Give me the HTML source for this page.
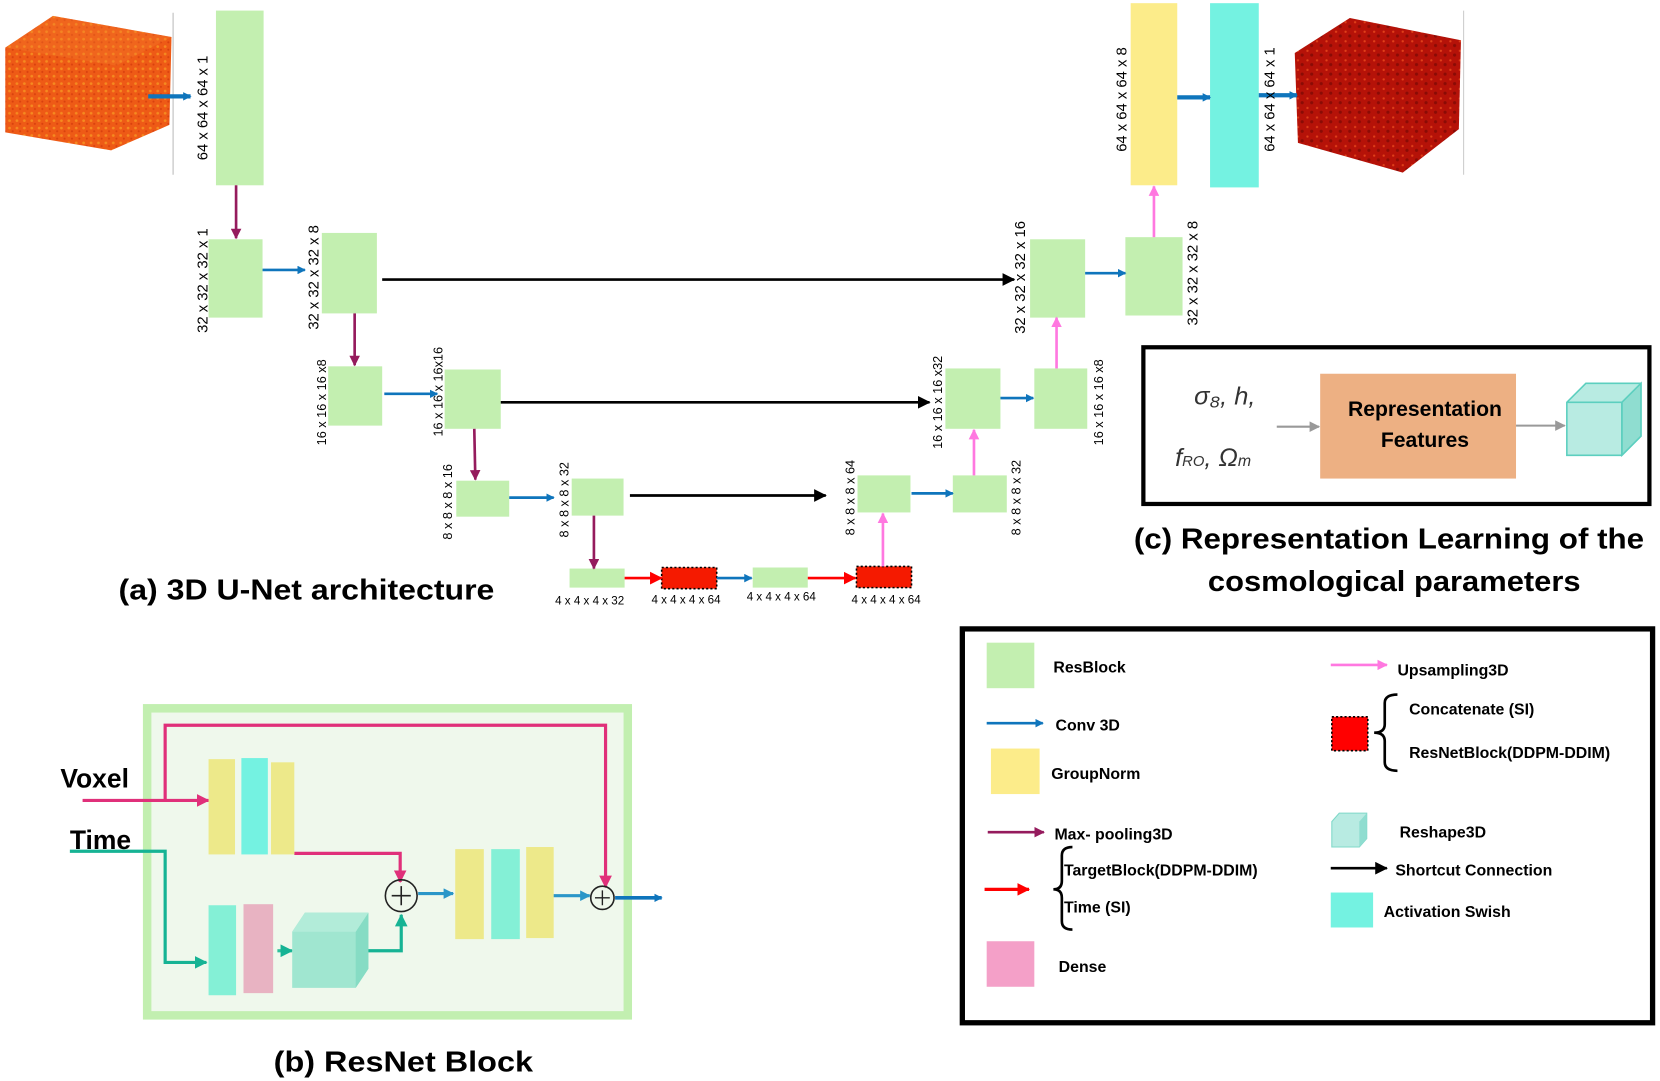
<!DOCTYPE html>
<html><head><meta charset="utf-8"><style>
html,body{margin:0;padding:0;background:#fff;}
svg{display:block;}
text{font-family:"Liberation Sans",sans-serif;}
.b{font-weight:bold;}
</style></head><body>
<svg width="1660" height="1081" viewBox="0 0 1568 1021" preserveAspectRatio="none" xmlns="http://www.w3.org/2000/svg">
<defs>
<marker id="mb" markerWidth="8" markerHeight="8" refX="7" refY="4" orient="auto" markerUnits="userSpaceOnUse"><path d="M0,0L8,4L0,8z" fill="#0f75bc"/></marker>
<marker id="mp" markerWidth="10" markerHeight="10" refX="9" refY="5" orient="auto" markerUnits="userSpaceOnUse"><path d="M0,0L10,5L0,10z" fill="#951b5d"/></marker>
<marker id="mk" markerWidth="12" markerHeight="12" refX="11" refY="6" orient="auto" markerUnits="userSpaceOnUse"><path d="M0,0L12,6L0,12z" fill="#000"/></marker>
<marker id="mu" markerWidth="10" markerHeight="10" refX="9" refY="5" orient="auto" markerUnits="userSpaceOnUse"><path d="M0,0L10,5L0,10z" fill="#ff78e0"/></marker>
<marker id="mr" markerWidth="12" markerHeight="12" refX="11" refY="6" orient="auto" markerUnits="userSpaceOnUse"><path d="M0,0L12,6L0,12z" fill="#ff0000"/></marker>
<marker id="mg" markerWidth="10" markerHeight="10" refX="9" refY="5" orient="auto" markerUnits="userSpaceOnUse"><path d="M0,0L10,5L0,10z" fill="#999"/></marker>
<marker id="mm" markerWidth="12" markerHeight="12" refX="11" refY="6" orient="auto" markerUnits="userSpaceOnUse"><path d="M0,0L12,6L0,12z" fill="#e0307a"/></marker>
<marker id="mt" markerWidth="12" markerHeight="12" refX="11" refY="6" orient="auto" markerUnits="userSpaceOnUse"><path d="M0,0L12,6L0,12z" fill="#16b394"/></marker>
<marker id="mc" markerWidth="10" markerHeight="10" refX="9" refY="5" orient="auto" markerUnits="userSpaceOnUse"><path d="M0,0L10,5L0,10z" fill="#2a96c8"/></marker>
<pattern id="po" width="7" height="7" patternUnits="userSpaceOnUse"><rect width="7" height="7" fill="#ee5a16"/><circle cx="2" cy="2" r="1.3" fill="#f58a20"/><circle cx="5" cy="5" r="1" fill="#d9400e"/></pattern>
<pattern id="pr" width="9" height="9" patternUnits="userSpaceOnUse"><rect width="9" height="9" fill="#b51208"/><circle cx="2" cy="3" r="1.1" fill="#e0401a"/><circle cx="6" cy="7" r="1.5" fill="#8a0b05"/></pattern>
</defs>

<!-- input cube -->
<polygon points="5,45 50,15 162,35 160,118 105,142 5,125" fill="url(#po)"/>
<polygon points="5,45 50,15 162,35 110,62" fill="#f47a2a" opacity="0.35"/>
<line x1="163.5" y1="12" x2="163.5" y2="165" stroke="#bbb" stroke-width="1"/>
<line x1="140" y1="91" x2="180" y2="91" stroke="#0f75bc" stroke-width="4" marker-end="url(#mb)"/>

<g fill="#c3efb0">
<rect x="204" y="10" width="45" height="165"/>
<rect x="197" y="226" width="51" height="74"/>
<rect x="304" y="220" width="52" height="76"/>
<rect x="310" y="346" width="51" height="56"/>
<rect x="420" y="349" width="53" height="56"/>
<rect x="431" y="454" width="50" height="34"/>
<rect x="540" y="452" width="49" height="35"/>
<rect x="538" y="537" width="52" height="18"/>
<rect x="711" y="536" width="52" height="19"/>
<rect x="810" y="449" width="50" height="35"/>
<rect x="900" y="449" width="51" height="35"/>
<rect x="893" y="348" width="52" height="57"/>
<rect x="977" y="348" width="50" height="57"/>
<rect x="973" y="226" width="52" height="74"/>
<rect x="1063" y="224" width="54" height="74"/>
</g>
<rect x="1068" y="3" width="44" height="172" fill="#fcec8a"/>
<rect x="1143" y="3" width="46" height="174" fill="#74f2e1"/>
<rect x="625" y="536" width="52" height="20" fill="#f51a00" stroke="#000" stroke-width="1.5" stroke-dasharray="2,2"/>
<rect x="809" y="535" width="52" height="20" fill="#f51a00" stroke="#000" stroke-width="1.5" stroke-dasharray="2,2"/>

<!-- output cube -->
<polygon points="1223,50 1275,17 1380,38 1378,122 1325,163 1226,135" fill="url(#pr)"/>
<line x1="1382.5" y1="10" x2="1382.5" y2="165" stroke="#ccc" stroke-width="1"/>

<!-- arrows -->
<g stroke-width="2.5">
<line x1="223" y1="175" x2="223" y2="225" stroke="#951b5d" marker-end="url(#mp)"/>
<line x1="335" y1="296" x2="335" y2="345" stroke="#951b5d" marker-end="url(#mp)"/>
<line x1="448" y1="405" x2="449" y2="453" stroke="#951b5d" marker-end="url(#mp)"/>
<line x1="561" y1="487" x2="561" y2="537" stroke="#951b5d" marker-end="url(#mp)"/>
<line x1="248" y1="255" x2="288" y2="255" stroke="#0f75bc" marker-end="url(#mb)"/>
<line x1="363" y1="372" x2="413" y2="372" stroke="#0f75bc" marker-end="url(#mb)"/>
<line x1="481" y1="470" x2="523" y2="470" stroke="#0f75bc" marker-end="url(#mb)"/>
<line x1="677" y1="546" x2="710" y2="546" stroke="#0f75bc" marker-end="url(#mb)"/>
<line x1="861" y1="466" x2="900" y2="466" stroke="#0f75bc" marker-end="url(#mb)"/>
<line x1="945" y1="376" x2="976" y2="376" stroke="#0f75bc" marker-end="url(#mb)"/>
<line x1="1025" y1="258" x2="1063" y2="258" stroke="#0f75bc" marker-end="url(#mb)"/>
<line x1="1112" y1="92" x2="1143" y2="92" stroke="#0f75bc" stroke-width="4" marker-end="url(#mb)"/>
<line x1="1189" y1="90" x2="1225" y2="90" stroke="#0f75bc" stroke-width="4" marker-end="url(#mb)"/>
<line x1="361" y1="264" x2="958" y2="264" stroke="#000" marker-end="url(#mk)"/>
<line x1="473" y1="380" x2="878" y2="380" stroke="#000" marker-end="url(#mk)"/>
<line x1="595" y1="468" x2="780" y2="468" stroke="#000" marker-end="url(#mk)"/>
<line x1="590" y1="546" x2="625" y2="546" stroke="#ff0000" marker-end="url(#mr)"/>
<line x1="763" y1="546" x2="808" y2="546" stroke="#ff0000" marker-end="url(#mr)"/>
<line x1="834" y1="535" x2="834" y2="485" stroke="#ff78e0" marker-end="url(#mu)"/>
<line x1="920" y1="449" x2="920" y2="406" stroke="#ff78e0" marker-end="url(#mu)"/>
<line x1="998" y1="348" x2="998" y2="300" stroke="#ff78e0" marker-end="url(#mu)"/>
<line x1="1090" y1="224" x2="1090" y2="176" stroke="#ff78e0" marker-end="url(#mu)"/>
</g>

<!-- rotated labels -->
<g font-size="14" text-anchor="middle">
<text transform="translate(196,102) rotate(-90)">64 x 64 x 64 x 1</text>
<text transform="translate(196,265) rotate(-90)">32 x 32 x 32 x 1</text>
<text transform="translate(301,262) rotate(-90)">32 x 32 x 32 x 8</text>
<text transform="translate(968,262) rotate(-90)">32 x 32 x 32 x 16</text>
<text transform="translate(1131,258) rotate(-90)">32 x 32 x 32 x 8</text>
<text transform="translate(1064,94) rotate(-90)">64 x 64 x 64 x 8</text>
<text transform="translate(1204,94) rotate(-90)">64 x 64 x 64 x 1</text>
</g>
<g font-size="12" text-anchor="middle">
<text transform="translate(308,380) rotate(-90)">16 x 16 x 16 x8</text>
<text transform="translate(418,370) rotate(-90)">16 x 16 x 16x16</text>
<text transform="translate(427,474) rotate(-90)">8 x 8 x 8 x 16</text>
<text transform="translate(537,472) rotate(-90)">8 x 8 x 8 x 32</text>
<text transform="translate(807,470) rotate(-90)">8 x 8 x 8 x 64</text>
<text transform="translate(964,470) rotate(-90)">8 x 8 x 8 x 32</text>
<text transform="translate(890,380) rotate(-90)">16 x 16 x 16 x32</text>
<text transform="translate(1042,380) rotate(-90)">16 x 16 x 16 x8</text>
</g>
<g font-size="11" text-anchor="middle">
<text x="557" y="571">4 x 4 x 4 x 32</text>
<text x="648" y="570">4 x 4 x 4 x 64</text>
<text x="738" y="567">4 x 4 x 4 x 64</text>
<text x="837" y="570">4 x 4 x 4 x 64</text>
</g>
<text x="112" y="566" class="b" font-size="27" textLength="355" lengthAdjust="spacingAndGlyphs">(a) 3D U-Net architecture</text>

<!-- (c) -->
<rect x="1080" y="328" width="478" height="148" fill="none" stroke="#000" stroke-width="4"/>
<text x="1128" y="382" font-family="Liberation Serif" font-style="italic" font-size="24" fill="#333">σ₈, h,</text>
<text x="1110" y="440" font-family="Liberation Serif" font-style="italic" font-size="24" fill="#333">f<tspan font-size="14">RO</tspan>, Ω<tspan font-size="15">m</tspan></text>
<line x1="1206" y1="403" x2="1246" y2="403" stroke="#999" stroke-width="2" marker-end="url(#mg)"/>
<rect x="1247" y="353" width="185" height="99" fill="#edb083"/>
<text x="1346" y="393" class="b" font-size="20" text-anchor="middle">Representation</text>
<text x="1346" y="422" class="b" font-size="20" text-anchor="middle">Features</text>
<line x1="1432" y1="402" x2="1478" y2="402" stroke="#999" stroke-width="2" marker-end="url(#mg)"/>
<polygon points="1480,380 1498,362 1550,362 1550,412 1532,430 1480,430" fill="#b8ebe2" stroke="#5ccfbf" stroke-width="1.5"/>
<polygon points="1532,380 1550,362 1550,412 1532,430" fill="#8fddd0" stroke="#5ccfbf" stroke-width="1.5"/>
<polyline points="1480,380 1532,380 1532,430" fill="none" stroke="#5ccfbf" stroke-width="1.5"/>
<text x="1312" y="518" class="b" font-size="27" text-anchor="middle" textLength="482" lengthAdjust="spacingAndGlyphs">(c) Representation Learning of the</text>
<text x="1317" y="558" class="b" font-size="27" text-anchor="middle" textLength="352" lengthAdjust="spacingAndGlyphs">cosmological parameters</text>

<!-- (b) ResNet block -->
<rect x="139" y="669" width="454" height="290" fill="#eff8ec" stroke="#c2efb0" stroke-width="8"/>
<text x="57" y="744" class="b" font-size="25">Voxel</text>
<text x="66" y="802" class="b" font-size="25">Time</text>
<polyline points="156,756 156,685 572,685 572,838" fill="none" stroke="#e0307a" stroke-width="3" marker-end="url(#mm)"/>
<line x1="78" y1="756" x2="197" y2="756" stroke="#e0307a" stroke-width="3" marker-end="url(#mm)"/>
<polyline points="278,806 378,806 378,833" fill="none" stroke="#e0307a" stroke-width="3" marker-end="url(#mm)"/>
<polyline points="66,804 156,804 156,909 195,909" fill="none" stroke="#16b394" stroke-width="3" marker-end="url(#mt)"/>
<rect x="197" y="717" width="25" height="90" fill="#ede98a"/>
<rect x="228" y="716" width="25" height="91" fill="#74f2e1"/>
<rect x="256" y="720" width="22" height="87" fill="#ede98a"/>
<rect x="430" y="802" width="27" height="85" fill="#ede98a"/>
<rect x="464" y="802" width="27" height="85" fill="#84f0d6"/>
<rect x="497" y="800" width="26" height="86" fill="#ede98a"/>
<rect x="197" y="855" width="26" height="85" fill="#84f0d6"/>
<rect x="230" y="854" width="28" height="84" fill="#e8b3c2"/>
<line x1="262" y1="898" x2="276" y2="898" stroke="#2fbf9c" stroke-width="3" marker-end="url(#mt)"/>
<polygon points="276,880 288,862 348,862 348,915 336,933 276,933" fill="#a0e6d0"/>
<polygon points="336,880 348,862 348,915 336,933" fill="#86dcc4"/>
<polygon points="276,880 288,862 348,862 336,880" fill="#b2ecd9"/>
<polyline points="348,898 379,898 379,864" fill="none" stroke="#16b394" stroke-width="3" marker-end="url(#mt)"/>
<circle cx="379" cy="846" r="15" fill="none" stroke="#222" stroke-width="1.5"/>
<path d="M370,846h18M379,837v18" stroke="#222" stroke-width="1.5"/>
<line x1="395" y1="844" x2="428" y2="844" stroke="#2a96c8" stroke-width="3" marker-end="url(#mc)"/>
<line x1="523" y1="846" x2="557" y2="846" stroke="#2a96c8" stroke-width="3" marker-end="url(#mc)"/>
<circle cx="569" cy="848" r="11" fill="none" stroke="#222" stroke-width="1.5"/>
<path d="M562,848h14M569,841v14" stroke="#222" stroke-width="1.3"/>
<line x1="581" y1="848" x2="625" y2="848" stroke="#0f75bc" stroke-width="3.5" marker-end="url(#mb)"/>
<text x="381" y="1012" class="b" font-size="27" text-anchor="middle" textLength="245" lengthAdjust="spacingAndGlyphs">(b) ResNet Block</text>

<!-- legend -->
<rect x="909" y="594" width="652" height="372" fill="none" stroke="#000" stroke-width="5"/>
<g font-size="15" class="b">
<rect x="932" y="607" width="45" height="43" fill="#c3efb0"/>
<text x="995" y="635">ResBlock</text>
<line x1="932" y1="683" x2="985" y2="683" stroke="#0f75bc" stroke-width="2.5" marker-end="url(#mb)"/>
<text x="997" y="690">Conv 3D</text>
<rect x="936" y="707" width="46" height="43" fill="#fcec8a"/>
<text x="993" y="736">GroupNorm</text>
<line x1="933" y1="786" x2="986" y2="786" stroke="#951b5d" stroke-width="2.5" marker-end="url(#mp)"/>
<text x="996" y="793">Max- pooling3D</text>
<path d="M1013,800 Q1003,800 1003,808 L1003,832 Q1003,840 995,840 Q1003,840 1003,848 L1003,870 Q1003,878 1013,878" fill="none" stroke="#000" stroke-width="2.5"/>
<line x1="930" y1="840" x2="972" y2="840" stroke="#ff0000" stroke-width="3" marker-end="url(#mr)"/>
<text x="1005" y="827">TargetBlock(DDPM-DDIM)</text>
<text x="1005" y="862">Time (SI)</text>
<rect x="932" y="889" width="45" height="43" fill="#f4a0c8"/>
<text x="1000" y="918">Dense</text>
<line x1="1257" y1="628" x2="1310" y2="628" stroke="#ff78e0" stroke-width="2.5" marker-end="url(#mu)"/>
<text x="1320" y="638">Upsampling3D</text>
<rect x="1258" y="677" width="34" height="32" fill="#ff0000" stroke="#000" stroke-width="1.5" stroke-dasharray="2,2"/>
<path d="M1320,656 Q1308,656 1308,664 L1308,684 Q1308,692 1298,692 Q1308,692 1308,700 L1308,720 Q1308,728 1320,728" fill="none" stroke="#000" stroke-width="2.5"/>
<text x="1331" y="675">Concatenate (SI)</text>
<text x="1331" y="716">ResNetBlock(DDPM-DDIM)</text>
<polygon points="1258,776 1265,768 1291,768 1291,792 1284,800 1258,800" fill="#b8ebe2" stroke="#7fd8c8" stroke-width="1"/>
<polygon points="1284,776 1291,768 1291,792 1284,800" fill="#8fddd0"/>
<text x="1322" y="791">Reshape3D</text>
<line x1="1257" y1="820" x2="1310" y2="820" stroke="#000" stroke-width="2.5" marker-end="url(#mk)"/>
<text x="1318" y="827">Shortcut  Connection</text>
<rect x="1257" y="843" width="40" height="33" fill="#74f2e1"/>
<text x="1307" y="866">Activation Swish</text>
</g>
</svg>
</body></html>
